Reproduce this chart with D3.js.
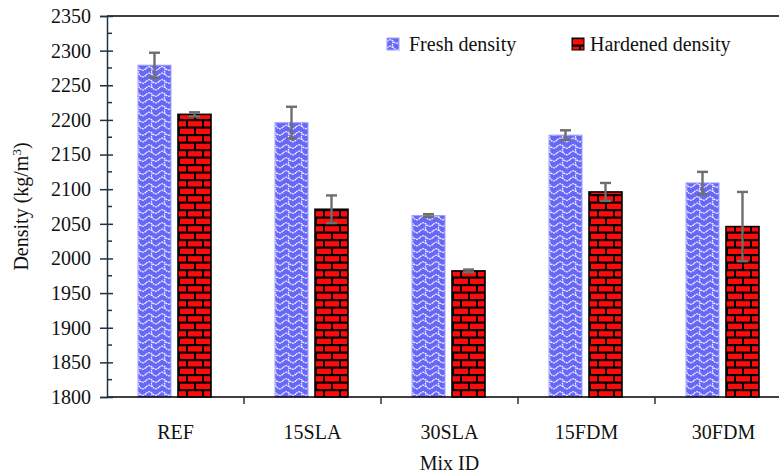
<!DOCTYPE html>
<html>
<head>
<meta charset="utf-8">
<script src="https://cdn.jsdelivr.net/npm/d3@7"></script>
<style>
  body { margin: 0; background: #fff; }
  svg text { font-family: "Liberation Serif", "Times New Roman", serif; fill: #111; }
</style>
</head>
<body>
<svg id="chart"></svg>
<script>
// Chart data
let mixIds = ['REF', '15SLA', '30SLA', '15FDM', '30FDM'];
let freshDensity = [2279, 2196, 2062, 2178, 2109];
let freshError = [18, 23, 2, 7, 16];
let hardenedDensity = [2208, 2071, 1982, 2096, 2046];
let hardenedError = [3, 20, 2, 13, 50];
let seriesNames = ['Fresh density', 'Hardened density'];
let yTicks = [1800, 1850, 1900, 1950, 2000, 2050, 2100, 2150, 2200, 2250, 2300, 2350];

let width = 779;
let height = 475;

let svg = d3.select('#chart')
    .attr('width', width)
    .attr('height', height);

// Plot area: the right side of the frame runs off the picture
let plotLeft = 107, plotRight = 792, plotTop = 16, plotBottom = 397;

let x = d3.scaleBand()
    .domain(mixIds)
    .range([plotLeft, plotRight]);

let xInner = d3.scaleBand()
    .domain(['fresh', 'hardened'])
    .range([31, 104])
    .paddingInner(0.175);

let y = d3.scaleLinear()
    .domain([1800, 2350])
    .range([plotBottom, plotTop]);

// Fill patterns
let defs = svg.append('defs');

let wave = defs.append('pattern')
    .attr('id', 'wave')
    .attr('patternUnits', 'userSpaceOnUse')
    .attr('width', 13)
    .attr('height', 13);
wave.append('rect')
    .attr('width', 13).attr('height', 13)
    .attr('fill', '#6868f6');
wave.append('path')
    .attr('d', 'M0,3.5 Q3.25,0 6.5,3.5 Q9.75,7 13,3.5 M0,10 Q3.25,6.5 6.5,10 Q9.75,13.5 13,10 M6.5,3.5 Q4.5,6.5 6.5,10')
    .attr('fill', 'none')
    .attr('stroke', '#f2f2ff')
    .attr('stroke-width', 1.3)
    .attr('stroke-dasharray', '1.8,0.8');

let brick = defs.append('pattern')
    .attr('id', 'brick')
    .attr('patternUnits', 'userSpaceOnUse')
    .attr('width', 16)
    .attr('height', 15);
brick.append('rect')
    .attr('width', 16).attr('height', 15)
    .attr('fill', '#000');
// two brick rows, second one shifted half a brick
[[1, 1.2, 14], [-7, 8.7, 14], [9, 8.7, 14]].forEach(b => {
    brick.append('rect')
        .attr('x', b[0]).attr('y', b[1])
        .attr('width', b[2]).attr('height', 5.3)
        .attr('fill', '#ff0a0a');
});

// Frame line on top
svg.append('line')
    .attr('x1', plotLeft).attr('x2', plotRight)
    .attr('y1', plotTop).attr('y2', plotTop)
    .attr('stroke', '#000').attr('stroke-width', 1.5);

// Bars
let groups = svg.selectAll('g.mix')
    .data(mixIds)
    .enter().append('g')
    .attr('class', 'mix')
    .attr('transform', d => `translate(${x(d)},0)`);

groups.append('rect')
    .attr('x', xInner('fresh'))
    .attr('y', (d, i) => y(freshDensity[i]))
    .attr('width', xInner.bandwidth())
    .attr('height', (d, i) => plotBottom - y(freshDensity[i]))
    .attr('fill', 'url(#wave)')
    .attr('stroke', '#a0a0ff')
    .attr('stroke-width', 1);

groups.append('rect')
    .attr('x', xInner('hardened'))
    .attr('y', (d, i) => y(hardenedDensity[i]))
    .attr('width', xInner.bandwidth())
    .attr('height', (d, i) => plotBottom - y(hardenedDensity[i]))
    .attr('fill', 'url(#brick)')
    .attr('stroke', '#000')
    .attr('stroke-width', 1.6);

// Error bars
function drawErrors(key, values, errors) {
    let cx = xInner(key) + xInner.bandwidth() / 2;
    let eb = groups.append('g').attr('stroke', '#6e6e6e').attr('stroke-width', 2.4);
    eb.append('line')
        .attr('x1', cx).attr('x2', cx)
        .attr('y1', (d, i) => y(values[i] + errors[i]))
        .attr('y2', (d, i) => y(values[i] - errors[i]));
    [1, -1].forEach(s => {
        eb.append('line')
            .attr('x1', cx - 5.5).attr('x2', cx + 5.5)
            .attr('y1', (d, i) => y(values[i] + s * errors[i]))
            .attr('y2', (d, i) => y(values[i] + s * errors[i]));
    });
}
drawErrors('fresh', freshDensity, freshError);
drawErrors('hardened', hardenedDensity, hardenedError);

// X axis
let xAxis = svg.append('g');
xAxis.append('line')
    .attr('x1', plotLeft).attr('x2', plotRight)
    .attr('y1', plotBottom).attr('y2', plotBottom)
    .attr('stroke', '#000').attr('stroke-width', 1.5);
xAxis.selectAll('line.sep')
    .data(mixIds.slice(1))
    .enter().append('line')
    .attr('class', 'sep')
    .attr('x1', d => x(d)).attr('x2', d => x(d))
    .attr('y1', plotBottom).attr('y2', plotBottom + 7)
    .attr('stroke', '#333').attr('stroke-width', 1.5);
xAxis.selectAll('text')
    .data(mixIds)
    .enter().append('text')
    .attr('x', d => x(d) + x.bandwidth() / 2)
    .attr('y', 439)
    .attr('text-anchor', 'middle')
    .style('font-size', '20px')
    .text(d => d);

// Y axis with major ticks crossing and minor ticks inside
let yAxis = svg.append('g')
    .attr('transform', `translate(${plotLeft},0)`)
    .call(d3.axisLeft(y).tickValues(yTicks).tickSize(7).tickPadding(9).tickFormat(d3.format('d')));
yAxis.select('.domain').attr('stroke', '#1d3446').attr('stroke-width', 1.5);
yAxis.selectAll('.tick line').attr('stroke', '#1d3446').attr('stroke-width', 1.5).attr('x2', -7).attr('x1', 6);
yAxis.selectAll('.tick text').style('font-size', '20px').attr('fill', '#111');

yAxis.selectAll('line.minor')
    .data(yTicks.slice(1).map(v => v - 25))
    .enter().append('line')
    .attr('class', 'minor')
    .attr('x1', 0).attr('x2', 5)
    .attr('y1', d => y(d)).attr('y2', d => y(d))
    .attr('stroke', '#1d3446').attr('stroke-width', 1.5);

// Axis titles
let yTitle = svg.append('text')
    .attr('transform', `translate(28,${(plotTop + plotBottom) / 2}) rotate(-90)`)
    .attr('text-anchor', 'middle')
    .style('font-size', '20px');
yTitle.append('tspan').text('Density (kg/m');
yTitle.append('tspan').attr('dy', -7).style('font-size', '13px').text('3');
yTitle.append('tspan').attr('dy', 7).text(')');

svg.append('text')
    .attr('x', (plotLeft + plotRight) / 2)
    .attr('y', 470)
    .attr('text-anchor', 'middle')
    .style('font-size', '20px')
    .text('Mix ID');

// Legend
let legendX = [387, 572];
let legendFill = ['url(#wave)', 'url(#brick)'];
let legend = svg.selectAll('g.legend')
    .data(seriesNames)
    .enter().append('g')
    .attr('class', 'legend')
    .attr('transform', (d, i) => `translate(${legendX[i]},38)`);
legend.append('rect')
    .attr('width', 12).attr('height', 12)
    .attr('fill', (d, i) => legendFill[i])
    .attr('stroke', (d, i) => i === 0 ? '#a0a0ff' : '#000')
    .attr('stroke-width', 1);
legend.append('text')
    .attr('x', (d, i) => i === 0 ? 22 : 18)
    .attr('y', 13)
    .style('font-size', '20px')
    .text(d => d);
</script>
</body>
</html>
